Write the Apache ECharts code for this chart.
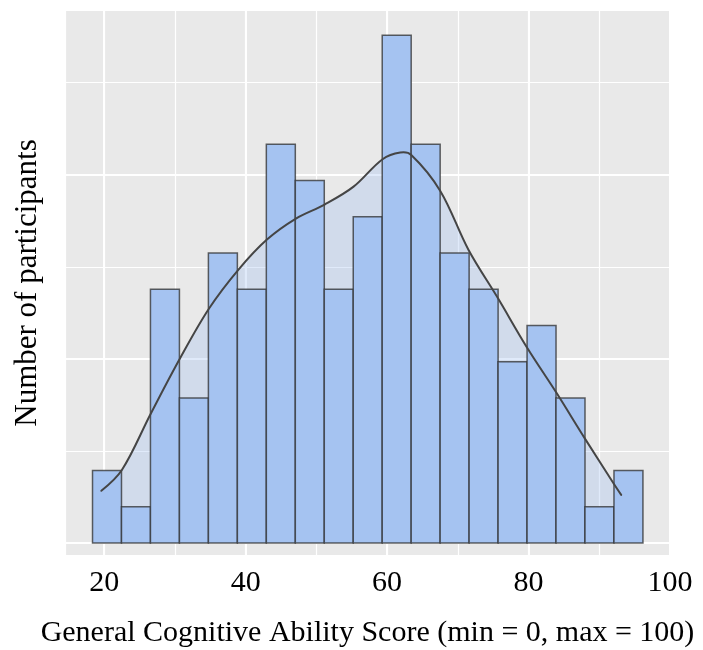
<!DOCTYPE html>
<html><head><meta charset="utf-8">
<script src="https://cdn.jsdelivr.net/npm/echarts@6/dist/echarts.min.js"></script>
<style>html,body{margin:0;padding:0;background:#fff}#c{width:703px;height:650px}</style>
</head><body><div id="c"></div>
<script>
// Histogram bins (score units)
const binStart = 18.35;
const binWidth = 4.096;
const counts = [2, 1, 7, 4, 8, 7, 11, 10, 7, 9, 14, 11, 8, 7, 5, 6, 4, 1, 2];
// Kernel density curve (score, density)
const densityX = [19.6, 22.5, 26.6, 30.75, 34.85, 38.99, 43.01, 47.11, 51.16, 55.26, 59.36, 61.86, 63.42, 67.52, 71.52, 75.68, 79.78, 83.88, 87.93, 92.03, 93.1];
const densityY = [0.00284, 0.00397, 0.00704, 0.01005, 0.01275, 0.01485, 0.01648, 0.01762, 0.01838, 0.01935, 0.02084, 0.02120, 0.02107, 0.01912, 0.01591, 0.01329, 0.01062, 0.00820, 0.00570, 0.00324, 0.00262];
const xTickLabels = ['20', '40', '60', '80', '100'];
const xTitle = 'General Cognitive Ability Score (min = 0, max = 100)';
const yTitle = 'Number of participants';

const N = counts.reduce((a, b) => a + b, 0);
const barData = counts.map((c, i) => [binStart + i * binWidth, binStart + (i + 1) * binWidth, c / (N * binWidth)]);
const curve = densityX.map((x, i) => [x, densityY[i]]);

const FONT = 'Liberation Serif';
const X_MIN = 14.46, X_MAX = 100;
const Y_MIN = -0.0007, Y_MAX = 0.02894;
const SMOOTH = 0.35;

const chart = echarts.init(document.getElementById('c'), null, {renderer: 'canvas'});
const hidden = {axisLine: {show: false}, axisTick: {show: false}};

function curvePixels(api) { return curve.map(p => api.coord(p)); }

chart.setOption({
  animation: false,
  grid: {left: 65, right: 33, top: 10, bottom: 94, show: true, backgroundColor: '#e9e9e9', borderWidth: 0,
    containLabel: false, outerBoundsMode: 'none'},
  xAxis: [
    Object.assign({
      type: 'value', min: X_MIN, max: X_MAX, minInterval: 10, maxInterval: 10,
      axisLabel: {show: false},
      splitLine: {show: true, lineStyle: {color: '#ffffff', width: 1.2}},
      name: xTitle, nameLocation: 'middle', nameGap: 62,
      nameTextStyle: {fontFamily: FONT, fontSize: 30, color: '#000'}
    }, hidden),
    Object.assign({
      type: 'value', min: X_MIN, max: X_MAX, minInterval: 20, maxInterval: 20, position: 'bottom',
      axisLabel: {show: true, showMaxLabel: true, showMinLabel: true, margin: 12, fontFamily: FONT, fontSize: 30, color: '#000',
        formatter: v => xTickLabels.indexOf(String(Math.round(v * 1000) / 1000)) >= 0 ? String(Math.round(v)) : ''},
      splitLine: {show: true, lineStyle: {color: '#ffffff', width: 2}}
    }, hidden)
  ],
  yAxis: [
    Object.assign({
      type: 'value', min: Y_MIN, max: Y_MAX, minInterval: 0.005, maxInterval: 0.005,
      axisLabel: {show: false},
      splitLine: {show: true, lineStyle: {color: '#ffffff', width: 1.2}},
      name: yTitle, nameLocation: 'middle', nameGap: 22, nameRotate: 90,
      nameTextStyle: {fontFamily: FONT, fontSize: 31, color: '#000'}
    }, hidden),
    Object.assign({
      type: 'value', min: Y_MIN, max: Y_MAX, minInterval: 0.01, maxInterval: 0.01, position: 'left',
      axisLabel: {show: false},
      splitLine: {show: true, lineStyle: {color: '#ffffff', width: 2}}
    }, hidden)
  ],
  series: [
    {
      // shaded area under the density curve
      type: 'custom', data: [curve[0]], xAxisIndex: 0, yAxisIndex: 0, z: 1, silent: true,
      renderItem: function (params, api) {
        const pts = curvePixels(api);
        const b0 = api.coord([curve[curve.length - 1][0], 0]);
        const b1 = api.coord([curve[0][0], 0]);
        const c0 = api.coord([binStart, 0]);
        const c1 = api.coord([binStart + counts.length * binWidth, Y_MAX]);
        return {
          type: 'polygon',
          shape: {points: pts.concat([b0, b1]), smooth: SMOOTH},
          style: {fill: 'rgba(165,195,240,0.35)', stroke: null},
          clipPath: {type: 'rect', shape: {x: c0[0], y: c1[1], width: c1[0] - c0[0], height: c0[1] - c1[1]}}
        };
      }
    },
    {
      type: 'custom', data: barData, xAxisIndex: 0, yAxisIndex: 0, z: 2,
      encode: {x: [0, 1], y: 2},
      renderItem: function (params, api) {
        const p0 = api.coord([api.value(0), 0]);
        const p1 = api.coord([api.value(1), api.value(2)]);
        return {type: 'rect', shape: {x: p0[0], y: p1[1], width: p1[0] - p0[0], height: p0[1] - p1[1]},
          style: {fill: '#a5c3f1', stroke: 'rgba(45,45,45,0.75)', lineWidth: 1.5}};
      }
    },
    {
      // density curve line
      type: 'custom', data: [curve[0]], xAxisIndex: 0, yAxisIndex: 0, z: 3, silent: true,
      renderItem: function (params, api) {
        return {
          type: 'polyline',
          shape: {points: curvePixels(api), smooth: SMOOTH},
          style: {fill: null, stroke: '#454545', lineWidth: 2, lineCap: 'round'}
        };
      }
    }
  ]
});
</script></body></html>
